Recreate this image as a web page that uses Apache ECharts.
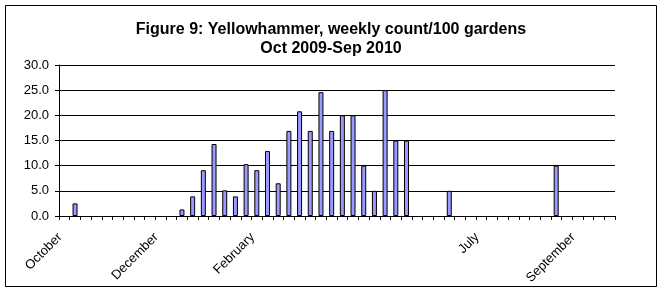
<!DOCTYPE html>
<html>
<head>
<meta charset="utf-8">
<script src="https://cdn.jsdelivr.net/npm/echarts@6/dist/echarts.min.js"></script>
<style>
html,body{margin:0;padding:0;background:#fff;}
#chart{width:662px;height:293px;}
</style>
</head>
<body>
<div id="chart"></div>
<script>
// 52 weekly categories, Oct 2009 - Sep 2010 (month name only on the first week shown)
const weekLabels = [
  'October','','','','','','','','',
  'December','','','','','','','','',
  'February','','','','','','','','','','','','','','','','','','','','',
  'July','','','','','','','','',
  'September','','',''
];
const weeklyCount = [
  0, 2.5, 0, 0, 0, 0, 0, 0, 0, 0,
  0, 1.3, 3.9, 9.1, 14.3, 5.1, 3.9, 10.3, 9.1, 12.9,
  6.5, 16.9, 20.8, 16.9, 24.6, 16.9, 20.0, 20.0, 10.0, 5.0,
  25.0, 15.0, 15.0, 0, 0, 0, 5.0, 0, 0, 0,
  0, 0, 0, 0, 0, 0, 10.0, 0, 0, 0,
  0, 0
];
const yTicks = [0, 5, 10, 15, 20, 25, 30];
const titleLines = ['Figure 9: Yellowhammer, weekly count/100 gardens', 'Oct 2009-Sep 2010'];

const chart = echarts.init(document.getElementById('chart'), null, {renderer: 'canvas'});
const font = '"Liberation Sans", Arial, sans-serif';
chart.setOption({
  animation: false,
  backgroundColor: '#ffffff',
  graphic: [{
    type: 'rect',
    shape: {x: 5.5, y: 5.5, width: 651, height: 281},
    style: {fill: 'none', stroke: '#000', lineWidth: 1},
    silent: true
  }],
  title: {
    text: titleLines.join('\n'),
    left: 'center',
    top: 15,
    textStyle: {fontFamily: font, fontSize: 16, fontWeight: 'bold', color: '#000', lineHeight: 19}
  },
  grid: {left: 59, right: 47, top: 65, bottom: 77, containLabel: false},
  xAxis: {
    type: 'category',
    data: weekLabels,
    boundaryGap: true,
    axisLine: {lineStyle: {color: '#000', width: 1}},
    axisTick: {show: true, interval: 0, length: 4, inside: false, lineStyle: {color: '#000'}},
    axisLabel: {interval: 0, rotate: 45, margin: 15, padding: [0, 6, 0, 0], fontFamily: font, fontSize: 13, color: '#000'},
    splitLine: {show: false}
  },
  yAxis: {
    type: 'value',
    min: yTicks[0],
    max: yTicks[yTicks.length - 1],
    interval: yTicks[1] - yTicks[0],
    axisLine: {show: true, lineStyle: {color: '#000', width: 1}},
    axisTick: {show: true, length: 4, lineStyle: {color: '#000'}},
    axisLabel: {margin: 10, fontFamily: font, fontSize: 13, color: '#000', formatter: v => v.toFixed(1)},
    splitLine: {show: true, lineStyle: {color: '#000', width: 1}}
  },
  series: [{
    type: 'bar',
    data: weeklyCount.map(v => (v === 0 ? null : v)),
    barWidth: 5,
    itemStyle: {color: '#9999ff', borderColor: '#000', borderWidth: 1}
  }]
});
</script>
</body>
</html>
